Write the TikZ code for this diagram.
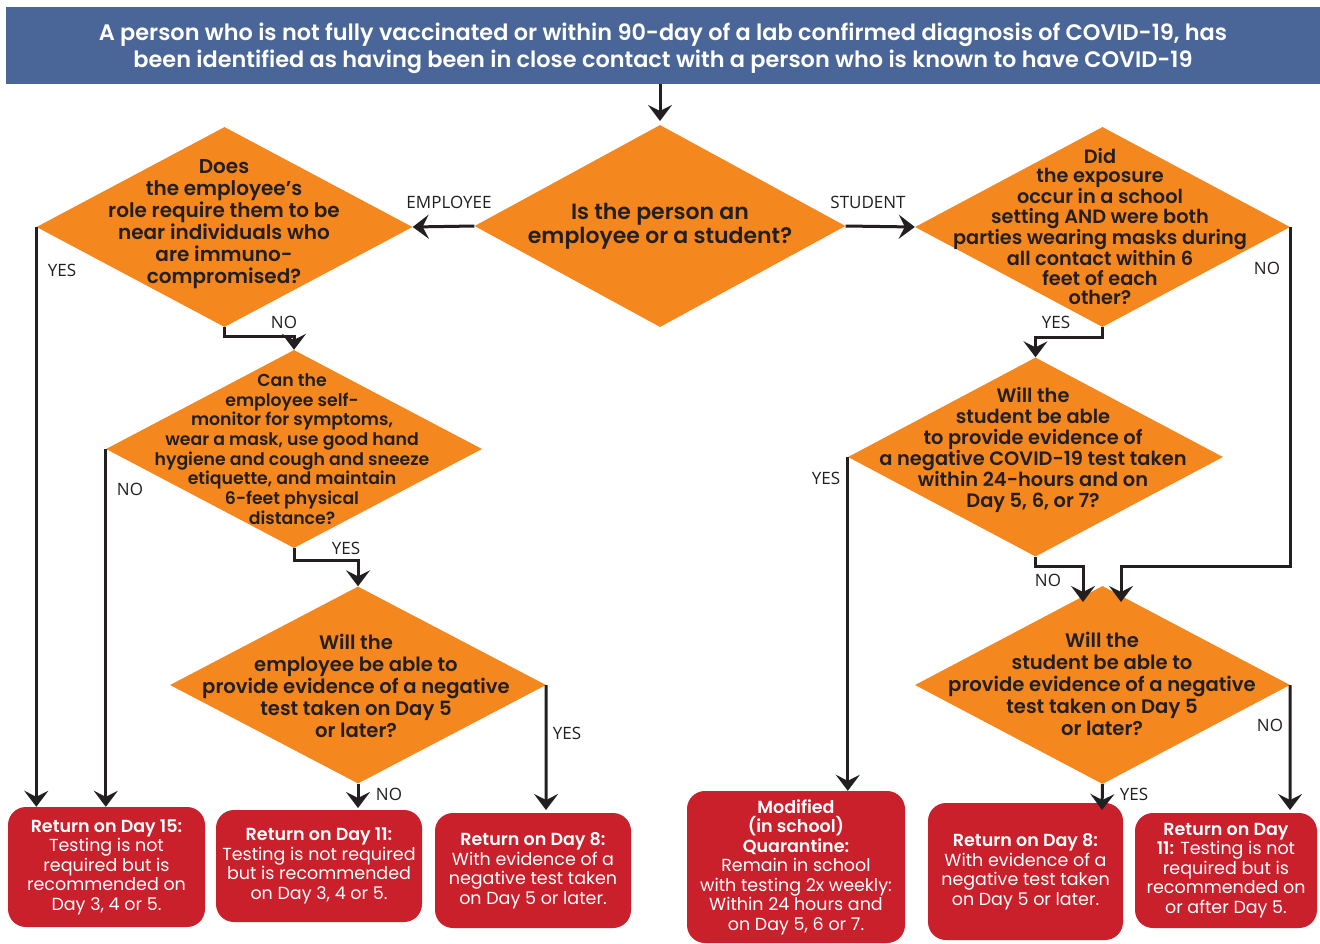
\documentclass[tikz,border=0pt]{standalone}
\usepackage{fontspec}
\setmainfont{Poppins}[BoldFont={Poppins SemiBold}]
\newfontfamily\lblfont{Open Sans}
\usetikzlibrary{shapes.geometric,arrows.meta}
\definecolor{hdrblue}{HTML}{4A6698}
\definecolor{qorange}{HTML}{F5871F}
\definecolor{boxred}{HTML}{C9202C}
\definecolor{ink}{HTML}{231F20}
\tikzset{
  dia/.style={diamond, fill=qorange, inner sep=0pt, draw=none},
  qtext/.style={align=center, text=ink, font=\bfseries\fontsize{19.6}{22}\selectfont, inner sep=0pt},
  rbox/.style={rectangle, rounded corners=18pt, fill=boxred, text=white, align=center, inner sep=0pt, font=\fontsize{17.5}{19.5}\selectfont},
  conn/.style={draw=ink, line width=3pt, -{Stealth[length=16pt,width=24pt,inset=6pt]}},
  lbl/.style={text=ink, font=\lblfont\fontsize{17}{20}\selectfont, inner sep=0pt}
}
\begin{document}
\begin{tikzpicture}[x=1pt,y=-1pt]
\useasboundingbox[fill=white] (0,0) rectangle (1320,943);

% header
\node[fill=hdrblue, minimum width=1314pt, minimum height=77pt, inner sep=0pt] (hdr) at (663,45.5) {};
\node[text=white, align=center, inner sep=0pt,
  font=\bfseries\fontsize{22.4}{27}\selectfont] (hdrtext) at (663,48.5)
  {A person who is not fully vaccinated or within 90-day of a lab confirmed diagnosis of COVID-19, has\\
   been identified as having been in close contact with a person who is known to have COVID-19};

% diamonds
\node[dia, minimum width=371pt, minimum height=202pt] (d0) at (660,226) {};
\node[qtext, font=\bfseries\fontsize{22}{24}\selectfont] (t0) at (660,226) {Is the person an\\employee or a student?};

\node[dia, minimum width=376pt, minimum height=200pt] (d1) at (224.5,227) {};
\node[qtext, font=\bfseries\fontsize{20}{22}\selectfont] (t1) at (224,224.5) {Does\\the employee’s\\role require them to be\\near individuals who\\are immuno-\\compromised?};

\node[dia, minimum width=376pt, minimum height=198pt] (d2) at (294,449) {};
\node[qtext, font=\bfseries\fontsize{17.3}{19.7}\selectfont] (t2) at (292,449) {Can the\\employee self-\\monitor for symptoms,\\wear a mask, use good hand\\hygiene and cough and sneeze\\etiquette, and maintain\\6-feet physical\\distance?};

\node[dia, minimum width=376pt, minimum height=197pt] (d3) at (358,685) {};
\node[qtext] (t3) at (356,686) {Will the\\employee be able to\\provide evidence of a negative\\test taken on Day 5\\or later?};

\node[dia, minimum width=375pt, minimum height=200pt] (d4) at (1102.5,227) {};
\node[qtext, font=\bfseries\fontsize{19.3}{19.2}\selectfont] (t4) at (1100,226.5) {Did\\the exposure\\occur in a school\\setting AND were both\\parties wearing masks during\\all contact within 6\\feet of each\\other?};

\node[dia, minimum width=375pt, minimum height=199pt] (d5) at (1035.5,457) {};
\node[qtext, font=\bfseries\fontsize{19.4}{21}\selectfont] (t5) at (1033,450) {Will the\\student be able\\to provide evidence of\\a negative COVID-19 test taken\\within 24-hours and on\\Day 5, 6, or 7?};

\node[dia, minimum width=375pt, minimum height=198pt] (d6) at (1102.5,685) {};
\node[qtext] (t6) at (1102,684) {Will the\\student be able to\\provide evidence of a negative\\test taken on Day 5\\or later?};

% outcome boxes
\node[rbox, minimum width=197pt, minimum height=120pt] (b1) at (106.5,867)
  {\textbf{Return on Day 15:}\\Testing is not\\required but is\\recommended on\\Day 3, 4 or 5.};
\node[rbox, minimum width=206pt, minimum height=112pt] (b2) at (319,866)
  {\textbf{Return on Day 11:}\\Testing is not required\\but is recommended\\on Day 3, 4 or 5.};
\node[rbox, minimum width=196pt, minimum height=115pt] (b3) at (533,870.5)
  {\textbf{Return on Day 8:}\\With evidence of a\\negative test taken\\on Day 5 or later.};
\node[rbox, minimum width=218pt, minimum height=152pt] (b4) at (796,867)
  {\textbf{Modified}\\\textbf{(in school)}\\\textbf{Quarantine:}\\Remain in school\\with testing 2x weekly:\\Within 24 hours and\\on Day 5, 6 or 7.};
\node[rbox, minimum width=195pt, minimum height=137pt] (b5) at (1025.5,871.5)
  {\textbf{Return on Day 8:}\\With evidence of a\\negative test taken\\on Day 5 or later.};
\node[rbox, minimum width=182pt, minimum height=115pt] (b6) at (1226,870.5)
  {\textbf{Return on Day}\\\textbf{11:} Testing is not\\required but is\\recommended on\\or after Day 5.};

% helper coordinates
\coordinate (d0in) at (660,121);
\coordinate (d6inA) at (1083,602);
\coordinate (d6inB) at (1121,602);
\coordinate (b5in) at (1102,810);
\coordinate (b6in) at (1290,810);
\coordinate (b3in) at (546,810);
\coordinate (b2in) at (358,808);

% connectors
\draw[conn] (hdr.south -| d0.north) -- (d0in);
\draw[conn] (d0.west) -- (d1.east);
\draw[conn] (d0.east) -- (d4.west);

\draw[conn] (d1.west) -- (d1.west |- b1.north);
\draw[conn] (d1.south) -- ++(0,9) -| (d2.north);
\draw[conn] (d2.west) -- (d2.west |- b1.north);
\draw[conn] (d2.south) -- ++(0,12) -| (d3.north);
\draw[conn] (d3.south) -- (b2in);
\draw[conn] (d3.east) -- (b3in);

\draw[conn] (d4.east) -- ++(0,339) -| (d6inB);
\draw[conn] (d4.south) -- ++(0,10) -| (d5.north);
\draw[conn] (d5.west) -- (d5.west |- b4.north);
\draw[conn] (d5.south) -- ++(0,10) -| (d6inA);
\draw[conn] (d6.south) -- (b5in);
\draw[conn] (d6.east) -- (b6in);

% labels
\node[lbl] (lemp) at (449,202) {EMPLOYEE};
\node[lbl] (lstu) at (868,202) {STUDENT};
\node[lbl] (l1y) at (62,270) {YES};
\node[lbl] (l1n) at (284,322) {NO};
\node[lbl] (l2n) at (130,489) {NO};
\node[lbl] (l2y) at (346,548) {YES};
\node[lbl] (l3y) at (567,733) {YES};
\node[lbl] (l3n) at (389,794) {NO};
\node[lbl] (l4n) at (1267,268) {NO};
\node[lbl] (l4y) at (1056,322) {YES};
\node[lbl] (l5y) at (826,478) {YES};
\node[lbl] (l5n) at (1048,580) {NO};
\node[lbl] (l6y) at (1134,794) {YES};
\node[lbl] (l6n) at (1270,725) {NO};
\end{tikzpicture}
\end{document}
